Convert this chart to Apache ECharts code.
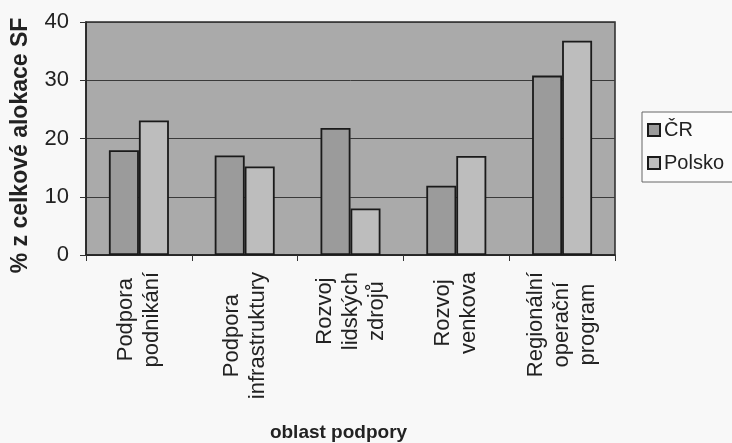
<!DOCTYPE html>
<html>
<head>
<meta charset="utf-8">
<script src="https://cdn.jsdelivr.net/npm/echarts@6/dist/echarts.min.js"></script>
<style>
html,body{margin:0;padding:0;background:#f8f8f8;}
#c{width:732px;height:443px;}
</style>
</head>
<body>
<div id="c"></div>
<script>
const categories = ['Podpora\npodnikání', 'Podpora\ninfrastruktury', 'Rozvoj\nlidských\nzdrojů', 'Rozvoj\nvenkova', 'Regionální\noperační\nprogram'];
const seriesNames = ['ČR', 'Polsko'];
const crValues = [18.0, 17.1, 21.8, 11.9, 30.8];
const polskoValues = [23.1, 15.2, 8.0, 17.0, 36.8];
const yTicks = { min: 0, max: 40, interval: 10 };

const FONT = '"Liberation Sans", Arial, sans-serif';
const chart = echarts.init(document.getElementById('c'), null, { renderer: 'canvas' });
chart.setOption({
  backgroundColor: '#f8f8f8',
  animation: false,
  grid: {
    left: 86, top: 22, width: 529, height: 233,
    outerBoundsMode: 'none', containLabel: false,
    show: true, backgroundColor: '#aaaaaa', borderColor: '#2a2a2a', borderWidth: 1.5
  },
  legend: {
    orient: 'vertical', left: 642, top: 112,
    padding: [8, 24, 9, 5], itemGap: 13,
    itemWidth: 12, itemHeight: 12,
    backgroundColor: '#fbfbfb', borderColor: '#666', borderWidth: 1, borderRadius: 0,
    textStyle: { fontFamily: FONT, fontSize: 20, color: '#222', padding: [0, 0, 0, -1] },
    data: seriesNames.map(n => ({ name: n, icon: 'rect' }))
  },
  xAxis: {
    type: 'category', data: categories,
    name: 'oblast podpory', nameLocation: 'middle', nameGap: 168,
    nameTextStyle: { fontFamily: FONT, fontSize: 19, fontWeight: 'bold', color: '#222', padding: [0, 24, 0, 0] },
    axisLine: { lineStyle: { color: '#222', width: 1.5 } },
    axisTick: { show: true, length: 6, lineStyle: { color: '#333' } },
    axisLabel: {
      rotate: 90, margin: 17, interval: 0,
      formatter: v => v.split('\n').map(l => '{c|' + l + '}').join('\n'),
      rich: { c: { align: 'center', fontFamily: FONT, fontSize: 22, lineHeight: 26, color: '#222' } }
    }
  },
  yAxis: {
    type: 'value', min: yTicks.min, max: yTicks.max, interval: yTicks.interval,
    name: '% z celkové alokace SF', nameLocation: 'middle', nameGap: 54,
    nameTextStyle: { fontFamily: FONT, fontSize: 23, fontWeight: 'bold', color: '#222', padding: [0, 14, 0, 0] },
    axisLine: { show: true, lineStyle: { color: '#222', width: 1.5 } },
    axisTick: { show: true, length: 6, lineStyle: { color: '#333' } },
    axisLabel: { fontFamily: FONT, fontSize: 22, color: '#222', margin: 17 },
    splitLine: { lineStyle: { color: '#3a3a3a', width: 1 } }
  },
  series: [
    {
      name: seriesNames[0], type: 'bar', data: crValues, barWidth: 30, barGap: '0%',
      itemStyle: { color: '#9b9b9b', borderColor: '#1a1a1a', borderWidth: 1.8 }
    },
    {
      name: seriesNames[1], type: 'bar', data: polskoValues, barWidth: 30, barGap: '0%',
      itemStyle: { color: '#bdbdbd', borderColor: '#1a1a1a', borderWidth: 1.8 }
    }
  ]
});
</script>
</body>
</html>
